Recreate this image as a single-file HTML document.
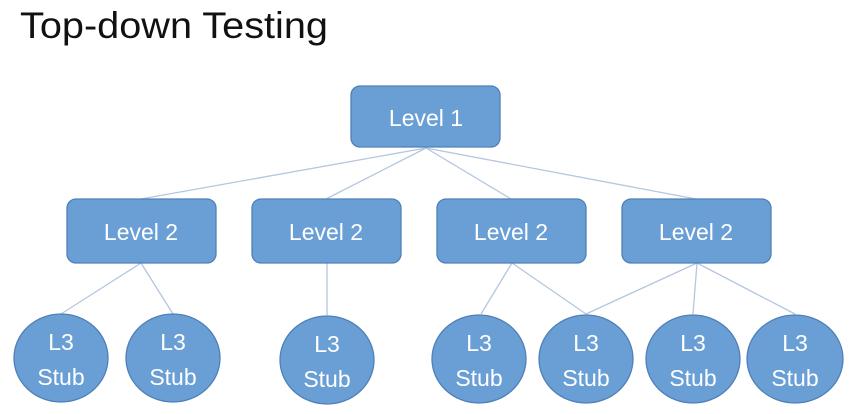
<!DOCTYPE html>
<html><head><style>
body{margin:0;background:#fff;width:851px;height:414px;overflow:hidden;font-family:"Liberation Sans",sans-serif}
</style></head><body>
<svg width="851" height="414" xmlns="http://www.w3.org/2000/svg" style="position:absolute;left:0;top:0">
<text x="20" y="38" font-size="37" fill="#111" textLength="308" lengthAdjust="spacingAndGlyphs" font-family="Liberation Sans, sans-serif">Top-down Testing</text>
<g stroke="#b4c6e0" stroke-width="1.3">
<line x1="426" y1="148" x2="141" y2="199"/><line x1="426" y1="148" x2="326" y2="199"/>
<line x1="426" y1="148" x2="511" y2="199"/><line x1="426" y1="148" x2="696" y2="199"/>
<line x1="141" y1="263" x2="61" y2="314"/><line x1="141" y1="263" x2="173" y2="314"/>
<line x1="327" y1="263" x2="327" y2="315"/>
<line x1="512" y1="263" x2="481" y2="314"/><line x1="512" y1="263" x2="586" y2="314"/>
<line x1="697" y1="263" x2="586" y2="314"/><line x1="697" y1="263" x2="693" y2="314"/><line x1="697" y1="263" x2="795" y2="314"/>
</g>
<g fill="#6a9fd5" stroke="#4f80b9" stroke-width="1.3">
<rect x="351" y="86" width="149" height="61" rx="9"/>
<rect x="67" y="199" width="149" height="64" rx="9"/>
<rect x="252" y="199" width="149" height="64" rx="9"/>
<rect x="437" y="199" width="149" height="64" rx="9"/>
<rect x="622" y="199" width="149" height="64" rx="9"/>
<ellipse cx="61" cy="358" rx="47" ry="44"/>
<ellipse cx="173" cy="358" rx="47" ry="44"/>
<ellipse cx="327" cy="360" rx="47" ry="44"/>
<ellipse cx="479" cy="359" rx="47" ry="44"/>
<ellipse cx="586" cy="359" rx="47" ry="44"/>
<ellipse cx="693" cy="359" rx="47" ry="44"/>
<ellipse cx="795" cy="359" rx="48" ry="44"/>
</g>
<g fill="#fff" font-size="23" text-anchor="middle" font-family="Liberation Sans, sans-serif">
<text x="426" y="126">Level 1</text>
<text x="141" y="240">Level 2</text><text x="326" y="240">Level 2</text>
<text x="511" y="240">Level 2</text><text x="696" y="240">Level 2</text>
<text x="61" y="350">L3</text><text x="61" y="385">Stub</text>
<text x="173" y="350">L3</text><text x="173" y="385">Stub</text>
<text x="327" y="352">L3</text><text x="327" y="387">Stub</text>
<text x="479" y="351">L3</text><text x="479" y="386">Stub</text>
<text x="586" y="351">L3</text><text x="586" y="386">Stub</text>
<text x="693" y="351">L3</text><text x="693" y="386">Stub</text>
<text x="795" y="351">L3</text><text x="795" y="386">Stub</text>
</g>
</svg>
</body></html>
